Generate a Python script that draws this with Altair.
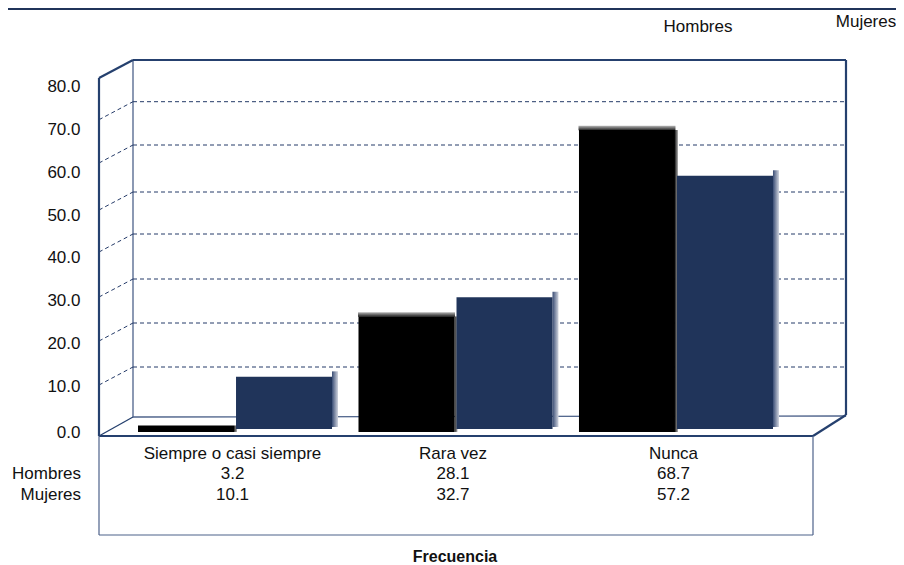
import altair as alt
import pandas as pd

# Chart values
categories = ["Siempre o casi siempre", "Rara vez", "Nunca"]
series = ["Hombres", "Mujeres"]
printed_hombres = [3.2, 28.1, 68.7]
printed_mujeres = [10.1, 32.7, 57.2]
# Bar lengths as they are drawn in the picture, read against its axis
drawn_hombres = [1.2, 26.0, 69.5]
drawn_mujeres = [11.9, 30.5, 58.8]
axis_ticks = [0, 10, 20, 30, 40, 50, 60, 70, 80]

NAVY = "#20345a"
FRAME = "#25406e"
THIN = "#4d628a"
GRID = "#243a68"
FONT = "Liberation Sans"
SIZE = 17
# Where the bars' feet stand on the floor, in axis units
FOOT_BLACK = -0.2
FOOT_BLUE = 0.45
FOOT_BLUE_SIDE = 0.87


def px(v):
    return alt.value(v - 8)


def seg(x1, y1, x2, y2, width=1.0, color=FRAME, dash=None):
    kw = {"strokeDash": dash} if dash else {}
    return alt.Chart().mark_rule(color=color, strokeWidth=width, **kw).encode(
        x=px(x1), x2=px(x2), y=px(y1), y2=px(y2)
    )


def label(text, x, y, size=SIZE, weight="normal", align="center"):
    return alt.Chart().mark_text(
        text=text, font=FONT, fontSize=size, fontWeight=weight, align=align,
        baseline="middle", color="#111111",
    ).encode(x=px(x), y=px(y))


yscale = alt.Scale(domain=[0, 10, 80], range=[431 - 8, 385 - 8, 85 - 8])
xscale = alt.Scale(domain=categories, range=[130, 765], paddingInner=0.12, paddingOuter=0)
offs = alt.Scale(domain=series, paddingInner=0.0204, paddingOuter=0)
yaxis = alt.Axis(
    values=axis_ticks, format=".1f", domain=False, ticks=False, grid=False,
    offset=-75, labelPadding=3, labelFont=FONT, labelFontSize=SIZE, labelColor="#111111",
    labelOffset=1.5, title=None,
)

df = pd.DataFrame({
    "cat": categories * 2,
    "serie": ["Hombres"] * 3 + ["Mujeres"] * 3,
    "v": drawn_hombres + drawn_mujeres,
})
men = df[df.serie == "Hombres"]
women = df[df.serie == "Mujeres"]


def grad(c0, c1, horizontal=True):
    return alt.LinearGradient(
        gradient="linear",
        stops=[alt.GradientStop(color=c0, offset=0), alt.GradientStop(color=c1, offset=1)],
        x1=0, y1=0, x2=1 if horizontal else 0, y2=0 if horizontal else 1,
    )


def bars(data, mark, foot):
    return alt.Chart(data).mark_bar(**mark).encode(
        x=alt.X("cat:N", scale=xscale, axis=None),
        xOffset=alt.XOffset("serie:N", scale=offs),
        y=alt.Y("v:Q", scale=yscale, axis=yaxis),
        y2=alt.Y2Datum(foot),
    )


def strip(data, mark, foot):
    return alt.Chart(data).mark_bar(**mark).encode(
        x=alt.X("cat:N", scale=xscale, axis=None),
        y=alt.Y("v:Q", scale=yscale, axis=yaxis),
        y2=alt.Y2Datum(foot),
    )


frame = [
    # back wall and floor
    seg(133, 60, 133, 417, 1.3, THIN),
    seg(133, 417, 846, 416, 1.3, THIN),
    seg(99, 436, 133, 417, 1.3, FRAME),
]
for gy in [101.7, 145, 192, 234, 279, 323, 367]:
    frame.append(seg(133, gy, 846, gy, 1, GRID, [4, 3]))
    frame.append(seg(99, gy + 18, 133, gy, 1, GRID, [4, 3]))
frame += [
    seg(99, 78, 133, 60, 2.2),
    seg(133, 60, 846, 60, 2.2),
    seg(846, 60, 846, 415, 2.2),
    seg(846, 415, 813, 436, 2.2),
    seg(99, 78, 99, 436, 2.2),
    seg(99, 436, 813, 436, 2.2),
    seg(99, 436, 99, 535, 1.2, THIN),
    seg(99, 535, 813, 535, 1.2, THIN),
    seg(813, 436, 813, 535, 1.2, THIN),
    seg(8, 9, 896, 9, 2.2, NAVY),
]

layers = list(frame)
# blue bars' side strip
layers.append(strip(women, dict(width=6, xOffset=100, yOffset=-5.5, color=grad("#3a4d75", "#d0d4de")), FOOT_BLUE_SIDE))
# black bars: top highlight, side strip, front
layers.append(alt.Chart(men[men.cat != categories[0]]).mark_tick(
    thickness=4.5, size=97, yOffset=-2, color=grad("#b8b8b8", "#222222", False), opacity=1,
).encode(
    x=alt.X("cat:N", scale=xscale, axis=None),
    xOffset=alt.XOffset("serie:N", scale=offs),
    y=alt.Y("v:Q", scale=yscale, axis=yaxis),
))
layers.append(strip(men, dict(width=3, xOffset=0.5, color=grad("#222222", "#b0b0b0")), FOOT_BLACK))
layers.append(bars(men, dict(color="#000000", width=96), FOOT_BLACK))
# blue bars' front
layers.append(bars(women, dict(color=NAVY, width=96), FOOT_BLUE))

# table below the chart
for rows, y in [(categories, 453.5), ([f"{v:.1f}" for v in printed_hombres], 474), ([f"{v:.1f}" for v in printed_mujeres], 495)]:
    t = pd.DataFrame({"cat": categories, "txt": rows})
    layers.append(alt.Chart(t).mark_text(font=FONT, fontSize=SIZE, dx=-2.5, baseline="middle", color="#111111").encode(
        x=alt.X("cat:N", scale=xscale, axis=None),
        y=px(y),
        text="txt:N",
    ))
layers += [
    label("Hombres", 81, 474, align="right"),
    label("Mujeres", 81, 495, align="right"),
    label("Hombres", 698, 27),
    label("Mujeres", 866, 22),
    label("Frecuencia", 455, 557, size=16, weight="bold"),
]

chart = alt.layer(*layers).properties(
    width=888, height=557, padding=0, autosize=alt.AutoSizeParams(type="none"),
).configure_view(stroke=None)

chart.save("out.html", embed_options={"renderer": "svg", "actions": False})
